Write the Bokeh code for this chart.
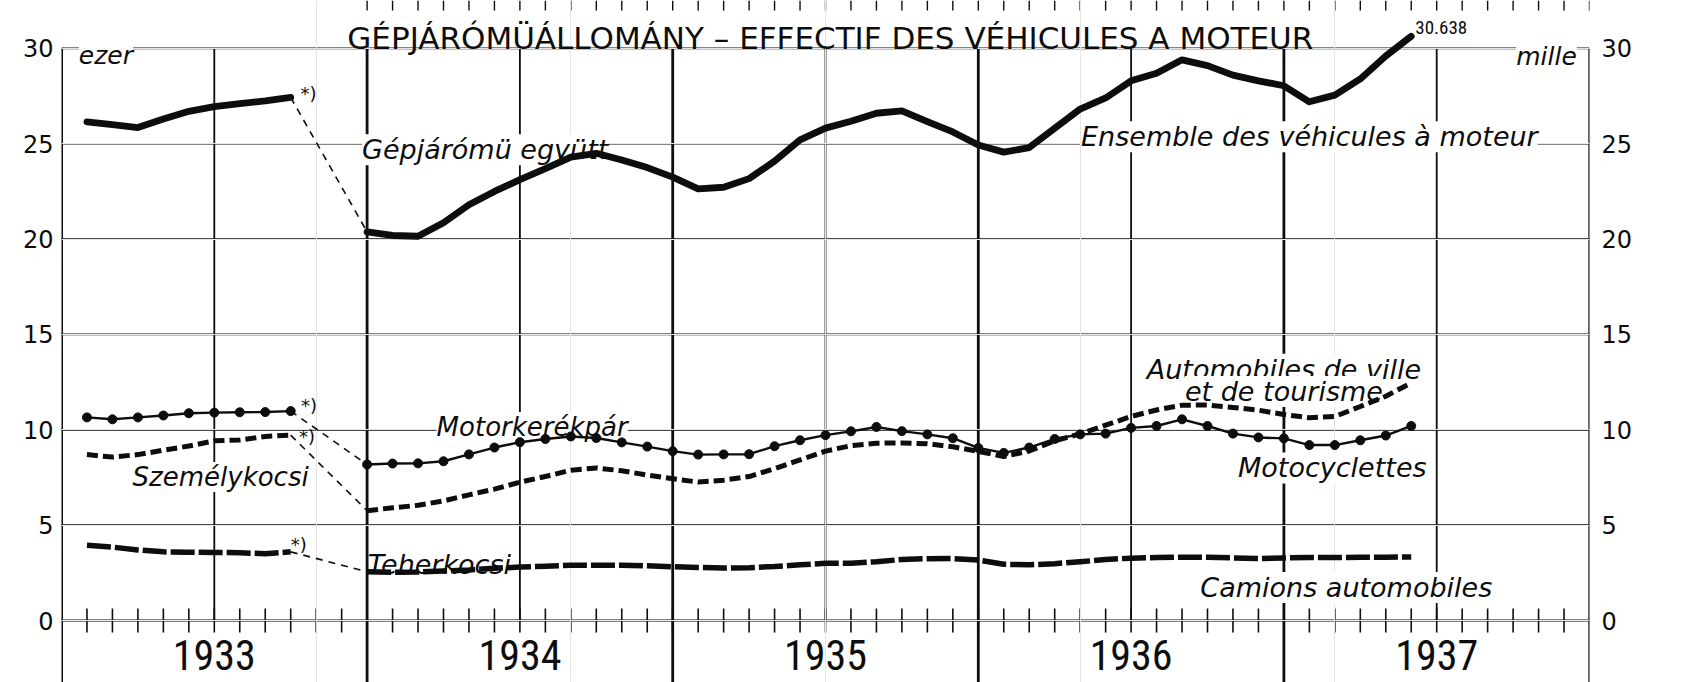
from bokeh.plotting import figure
from bokeh.models import Range1d, LinearAxis, FixedTicker, Label, ColumnDataSource
from bokeh.embed import file_html
from bokeh.resources import INLINE
from bokeh.core.properties import value

# ---------------- data (thousand vehicles, monthly) ----------------
# x = month index, 0 = start of January 1933, 60 = end of 1937
months_1933 = [1, 2, 3, 4, 5, 6, 7, 8, 9]
months_new = [12, 13, 14, 15, 16, 17, 18, 19, 20, 21, 22, 23, 24, 25, 26, 27,
              28, 29, 30, 31, 32, 33, 34, 35, 36, 37, 38, 39, 40, 41, 42, 43,
              44, 45, 46, 47, 48, 49, 50, 51, 52, 53]

total_1933 = [26.15, 26.0, 25.85, 26.3, 26.7, 26.95, 27.1, 27.25, 27.43]
total_new = [20.38, 20.19, 20.15, 20.86, 21.8, 22.5, 23.12, 23.7, 24.3, 24.5,
             24.15, 23.75, 23.25, 22.63, 22.72, 23.17, 24.09, 25.2, 25.82, 26.18,
             26.6, 26.72, 26.16, 25.62, 24.93, 24.56, 24.8, 25.81, 26.82, 27.4,
             28.3, 28.7, 29.4, 29.1, 28.6, 28.3, 28.04, 27.2, 27.55, 28.4,
             29.6, 30.638]

moto_1933 = [10.65, 10.55, 10.65, 10.75, 10.87, 10.9, 10.92, 10.93, 10.98]
moto_new = [8.18, 8.23, 8.24, 8.35, 8.71, 9.07, 9.35, 9.52, 9.65, 9.57,
            9.34, 9.12, 8.88, 8.7, 8.71, 8.72, 9.14, 9.45, 9.72, 9.92,
            10.15, 9.93, 9.76, 9.56, 9.05, 8.79, 9.07, 9.52, 9.76, 9.8,
            10.1, 10.2, 10.55, 10.2, 9.8, 9.6, 9.55, 9.2, 9.2, 9.45,
            9.7, 10.2]

cars_1933 = [8.7, 8.57, 8.7, 8.93, 9.15, 9.42, 9.47, 9.65, 9.72]
cars_new = [5.76, 5.91, 6.04, 6.27, 6.59, 6.89, 7.25, 7.55, 7.88, 8.0,
            7.85, 7.63, 7.43, 7.26, 7.36, 7.55, 7.96, 8.42, 8.88, 9.17,
            9.3, 9.31, 9.27, 9.11, 8.87, 8.6, 8.89, 9.42, 9.79, 10.24,
            10.7, 11.04, 11.29, 11.3, 11.17, 11.03, 10.8, 10.63, 10.7, 11.22,
            11.76, 12.46]

trucks_1933 = [3.95, 3.85, 3.7, 3.6, 3.58, 3.57, 3.55, 3.5, 3.6]
trucks_new = [2.56, 2.53, 2.54, 2.6, 2.65, 2.74, 2.8, 2.85, 2.9, 2.9,
              2.9, 2.87, 2.82, 2.78, 2.75, 2.77, 2.83, 2.92, 3.0, 3.0,
              3.08, 3.2, 3.24, 3.25, 3.17, 2.95, 2.92, 2.98, 3.08, 3.2,
              3.27, 3.3, 3.32, 3.32, 3.28, 3.25, 3.28, 3.3, 3.3, 3.32,
              3.32, 3.33]

year_labels = ["1933", "1934", "1935", "1936", "1937"]
year_mid = [6, 18, 30, 42, 54]
year_bounds = [0, 12, 24, 36, 48, 60]
y_ticks = [0, 5, 10, 15, 20, 25, 30]
month_ticks = list(range(1, 60))
top_month_ticks = list(range(12, 61))   # axis of the chart printed above
end_value_label = "30.638"

# ---------------- figure ----------------
W, H = 1688, 682
Y_TOP, Y_BOT = 32.512, -3.251
INK = "#0d0d0d"
NARROW = "'Liberation Sans Narrow', 'Roboto Condensed', 'DejaVu Sans Condensed', 'Noto Sans Condensed', 'Liberation Sans', sans-serif"
LBL_FONT = "DejaVu Sans"

p = figure(width=W, height=H, output_backend="svg", toolbar_location=None,
           x_range=Range1d(0, 60), y_range=Range1d(Y_BOT, Y_TOP),
           x_axis_location=None, y_axis_location=None,
           min_border_left=61, min_border_right=99,
           min_border_top=0, min_border_bottom=0)
p.outline_line_color = None
p.background_fill_color = "white"
p.border_fill_color = "white"

for side, standoff in (("left", 8), ("right", 12)):
    ax = LinearAxis(ticker=FixedTicker(ticks=y_ticks))
    ax.axis_line_color = None
    ax.major_tick_line_color = None
    ax.minor_tick_line_color = None
    ax.major_tick_in = 0
    ax.major_tick_out = 0
    ax.major_label_standoff = standoff
    ax.major_label_text_font = LBL_FONT
    ax.major_label_text_font_size = "24px"
    ax.major_label_text_color = INK
    p.add_layout(ax, side)

# ---------------- grid / frame (drawn lowest) ----------------
hsrc = ColumnDataSource(dict(y=y_ticks, w=[2.2 if t == 0 else 1.7 for t in y_ticks]))
p.segment(x0=0, x1=60, y0="y", y1="y", line_width="w", line_color=INK,
          source=hsrc, level="image")

p.segment(x0=year_mid, x1=year_mid, y0=0, y1=30, line_width=1.8,
          line_color=INK, level="image")

bw = [3.0 if b == 0 else (2.3 if b == 60 else 2.8) for b in year_bounds]
bsrc = ColumnDataSource(dict(x=year_bounds, w=bw))
p.segment(x0="x", x1="x", y0=Y_BOT, y1=30, line_width="w", line_color=INK,
          source=bsrc, level="image")

p.segment(x0=month_ticks, x1=month_ticks, y0=-0.63, y1=0.63, line_width=1.6,
          line_color=INK, level="image")

# tick row of the chart above (cut by the page edge)
p.segment(x0=top_month_ticks, x1=top_month_ticks, y0=Y_TOP - 0.52, y1=Y_TOP,
          line_width=1.4, line_color=INK, level="image")

# year labels under the axis
p.text(x=year_mid, y=[-1.82] * len(year_mid), text=year_labels,
       text_font=value(NARROW), text_font_size="42px",
       text_align="center", text_baseline="alphabetic", text_color=INK,
       level="image")

# ---------------- labels (white boxes interrupt the grid) ----------------
def add_label(x, y, text, size="27px", align="left", style="italic",
              font=LBL_FONT, bg=True):
    lab = Label(x=x, y=y, text=text, text_font=font, text_font_size=size,
                text_font_style=style, text_align=align,
                text_baseline="alphabetic", text_color=INK,
                background_fill_color="white" if bg else None,
                level="underlay")
    p.add_layout(lab)

add_label(30.19, 30.53, "GÉPJÁRÓMÜÁLLOMÁNY – EFFECTIF DES VÉHICULES A MOTEUR",
          size="31px", align="center", style="normal", bg=False)
add_label(0.68, 29.63, "ezer", size="25px")
add_label(59.5, 29.58, "mille", size="25px", align="right")
add_label(53.16, 31.1, end_value_label, size="19px", style="normal",
          font=NARROW, bg=False)
add_label(11.8, 24.68, "Gépjárómü együtt")
add_label(49.0, 25.37, "Ensemble des véhicules à moteur", align="center")
add_label(14.73, 10.15, "Motorkerékpár", size="26px")
add_label(2.79, 7.53, "Személykocsi", size="26px")
add_label(12.03, 2.94, "Teherkocsi", bg=False)
add_label(48.0, 13.18, "Automobiles de ville", align="center")
add_label(48.0, 12.01, "et de tourisme", align="center")
add_label(49.9, 8.0, "Motocyclettes", align="center")
add_label(50.45, 1.73, "Camions automobiles", align="center")

for xm, ym in ((9.38, 27.62), (9.4, 11.25), (9.33, 9.65), (9.0, 3.99)):
    p.add_layout(Label(x=xm, y=ym, text="*)", text_font=LBL_FONT,
                       text_font_size="18px", text_align="left",
                       text_baseline="middle", text_color=INK, level="underlay"))

# ---------------- data series ----------------
for xs, ys in ((months_1933, total_1933), (months_new, total_new)):
    p.line(xs, ys, line_width=6.8, line_color=INK, line_join="round", line_cap="round")

for xs, ys in ((months_1933, cars_1933), (months_new, cars_new)):
    p.line(xs, ys, line_width=5, line_color=INK, line_dash="11 5", line_join="round")

for xs, ys in ((months_1933, trucks_1933), (months_new, trucks_new)):
    p.line(xs, ys, line_width=5.5, line_color=INK, line_dash="24 4", line_join="round")

for xs, ys in ((months_1933, moto_1933), (months_new, moto_new)):
    p.line(xs, ys, line_width=2.4, line_color=INK)
    p.scatter(xs, ys, size=9, marker="circle", fill_color=INK, line_color=INK)

# thin dashed connectors across the break in the series
starts = [total_1933[-1], moto_1933[-1], cars_1933[-1], trucks_1933[-1]]
ends = [total_new[0], moto_new[0], cars_new[0], trucks_new[0]]
p.segment(x0=[months_1933[-1]] * 4, y0=starts, x1=[months_new[0]] * 4, y1=ends,
          line_width=1.6, line_color=INK, line_dash="7 6")

open("out.html", "w").write(file_html(p, INLINE))
